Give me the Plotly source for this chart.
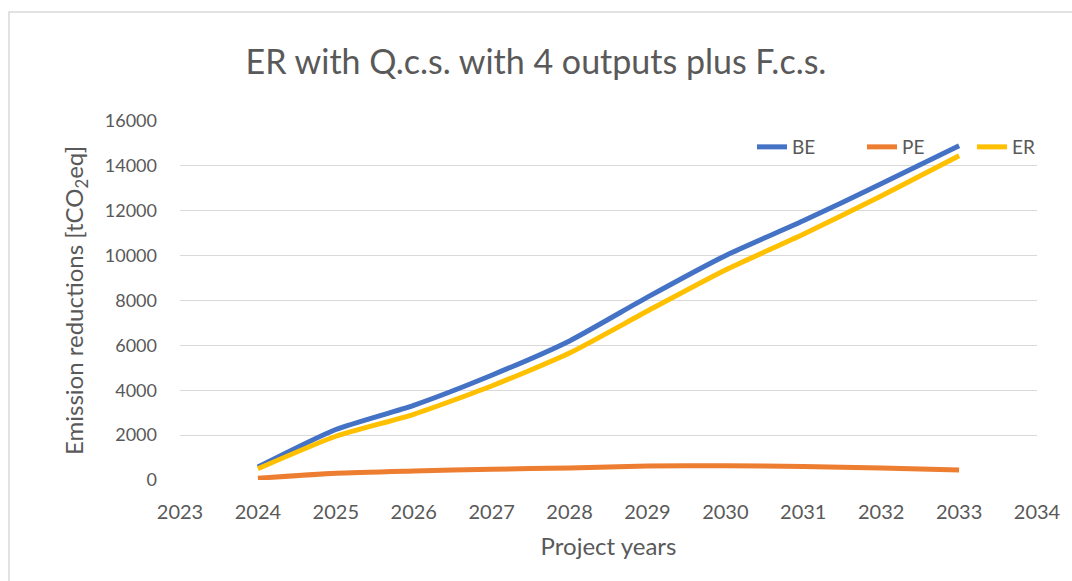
import plotly.graph_objects as go

years = [2024, 2025, 2026, 2027, 2028, 2029, 2030, 2031, 2032, 2033]
be_values = [580, 2250, 3330, 4670, 6200, 8150, 10000, 11550, 13200, 14900]
pe_values = [80, 300, 400, 480, 540, 620, 640, 600, 540, 450]
er_values = [500, 1950, 2930, 4190, 5660, 7530, 9360, 10950, 12660, 14450]
series_names = ["BE", "PE", "ER"]
series_colors = ["#4472C4", "#ED7D31", "#FFC000"]

FONT = "Lato"
GRAY = "#595959"

fig = go.Figure()
for name, vals, col in zip(series_names, [be_values, pe_values, er_values], series_colors):
    fig.add_trace(go.Scatter(
        x=years, y=vals, name=name, mode="lines",
        line=dict(color=col, width=5, shape="spline", smoothing=0.6),
    ))

W, H = 1072, 581
L, R, T, B = 180, 35, 121, 101
PW, PH = W - L - R, H - T - B

fig.update_layout(
    width=W, height=H,
    margin=dict(l=L, r=R, t=T, b=B, pad=0, autoexpand=False),
    paper_bgcolor="white", plot_bgcolor="white",
    font=dict(family=FONT, color=GRAY, size=18),
    title=dict(text="ER with Q.c.s. with 4 outputs plus F.c.s.",
               x=0.5, xanchor="center", y=1 - 62 / H, yanchor="middle",
               font=dict(family=FONT, size=34, color=GRAY)),
    xaxis=dict(range=[2023, 2034], dtick=1, tick0=2023, showgrid=False,
               zeroline=False, showline=False, ticks="", tickformat="d",
               tickfont=dict(size=20, color=GRAY), ticklabelstandoff=18,
               title=dict(text="Project years", font=dict(size=24, color=GRAY), standoff=16)),
    yaxis=dict(range=[0, 16000], dtick=2000, showgrid=True, gridcolor="#D9D9D9", gridwidth=1,
               zeroline=False, showline=False, ticks="", tickformat="d",
               tickfont=dict(size=18, color=GRAY), ticklabelstandoff=22,
               title=dict(text="Emission reductions [tCO<sub>2</sub>eq]",
                          font=dict(size=24, color=GRAY), standoff=14)),
    legend=dict(orientation="h", x=(752 - L) / PW, xanchor="left",
                y=(H - B - 147) / PH, yanchor="middle",
                bgcolor="rgba(0,0,0,0)", font=dict(size=19, color=GRAY),
                entrywidth=65, entrywidthmode="pixels", itemwidth=30,
                tracegroupgap=0),
    showlegend=True,
)

fig.add_shape(type="rect", xref="paper", yref="paper",
              x0=(9 - L) / PW, x1=(W + 10 - L) / PW,
              y0=(H - B - (H + 10)) / PH, y1=(H - B - 12) / PH,
              line=dict(color="#D9D9D9", width=1.5), fillcolor="rgba(0,0,0,0)", layer="below")

fig.write_html("out.html", config={"displayModeBar": False},
               post_script="document.body.style.margin='0px';")
